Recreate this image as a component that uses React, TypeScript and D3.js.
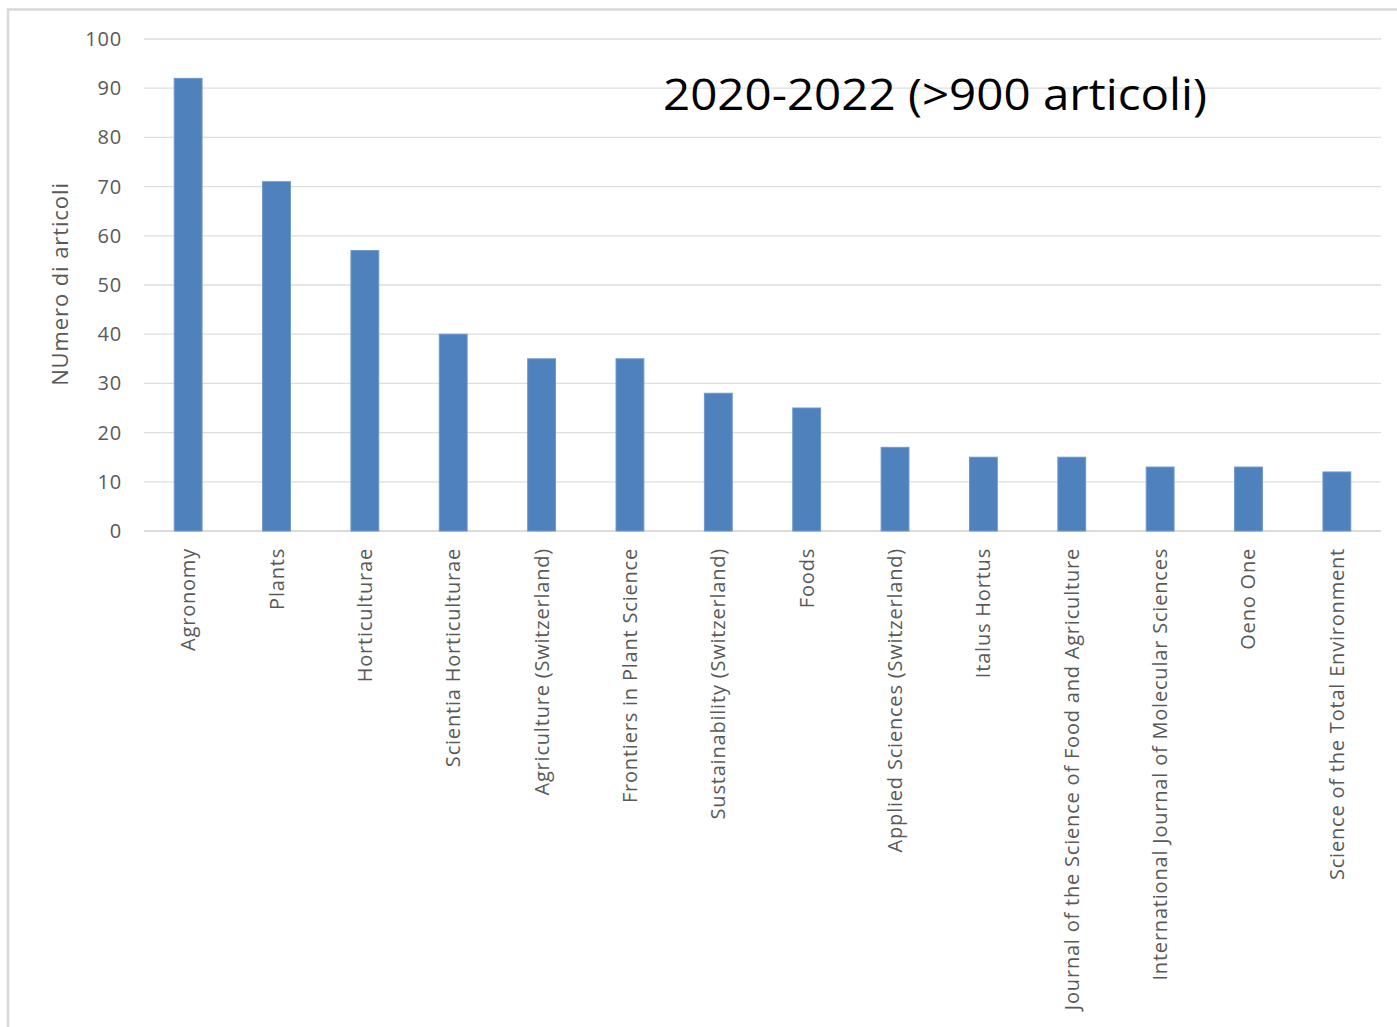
import React from "react";
import * as d3 from "d3";

const categories = [
  "Agronomy",
  "Plants",
  "Horticulturae",
  "Scientia Horticulturae",
  "Agriculture (Switzerland)",
  "Frontiers in Plant Science",
  "Sustainability (Switzerland)",
  "Foods",
  "Applied Sciences (Switzerland)",
  "Italus Hortus",
  "Journal of the Science of Food and Agriculture",
  "International Journal of Molecular Sciences",
  "Oeno One",
  "Science of the Total Environment",
];
const values = [92, 71, 57, 40, 35, 35, 28, 25, 17, 15, 15, 13, 13, 12];
const yTicks = [0, 10, 20, 30, 40, 50, 60, 70, 80, 90, 100];
const title = "2020-2022 (>900 articoli)";
const yTitle = "NUmero di articoli";

const W = 1397;
const H = 1027;
const FONT = "'Open Sans', 'Liberation Sans', sans-serif";

export default function App() {
  const x = d3
    .scaleBand<string>()
    .domain(categories)
    .range([144, 1381])
    .paddingInner(0.685)
    .paddingOuter(0.342);
  const y = d3.scaleLinear().domain([0, 100]).range([531, 39]);

  return (
    <svg
      width={W}
      height={H}
      style={{ position: "absolute", left: 0, top: 0, background: "#fff" }}
    >
      <rect x={8} y={9.5} width={W + 10} height={H + 10} fill="#fff" stroke="#d9d9d9" strokeWidth={2.5} />
      {yTicks.map((t) => (
        <g key={t}>
          <line
            x1={144}
            x2={1381}
            y1={y(t)}
            y2={y(t)}
            stroke={t === 0 ? "#d0d0d0" : "#dedede"}
            strokeWidth={1.3}
          />
          <text
            x={122}
            y={y(t)}
            dy="0.35em"
            textAnchor="end"
            fontFamily={FONT}
            fontSize={20}
            letterSpacing={0.8}
            fill="#595959"
          >
            {t}
          </text>
        </g>
      ))}
      {categories.map((c, i) => (
        <rect
          key={c}
          x={x(c)}
          y={y(values[i])}
          width={x.bandwidth()}
          height={y(0) - y(values[i])}
          fill="#4f81bd"
          stroke="#6d98cc"
          strokeWidth={1}
        />
      ))}
      {categories.map((c) => {
        const cx = (x(c) as number) + x.bandwidth() / 2;
        return (
          <text
            key={c}
            transform={`translate(${cx + 7},548) rotate(-90)`}
            textAnchor="end"
            fontFamily={FONT}
            fontSize={20}
            letterSpacing={0.8}
            fill="#595959"
          >
            {c}
          </text>
        );
      })}
      <text
        transform="translate(68,284) rotate(-90)"
        textAnchor="middle"
        fontFamily={FONT}
        fontSize={22}
        letterSpacing={0.9}
        fill="#595959"
      >
        {yTitle}
      </text>
      <text
        x={663}
        y={110}
        fontFamily={FONT}
        fontSize={44}
        fill="#000"
        textLength={544}
        lengthAdjust="spacingAndGlyphs"
      >
        {title}
      </text>
    </svg>
  );
}
